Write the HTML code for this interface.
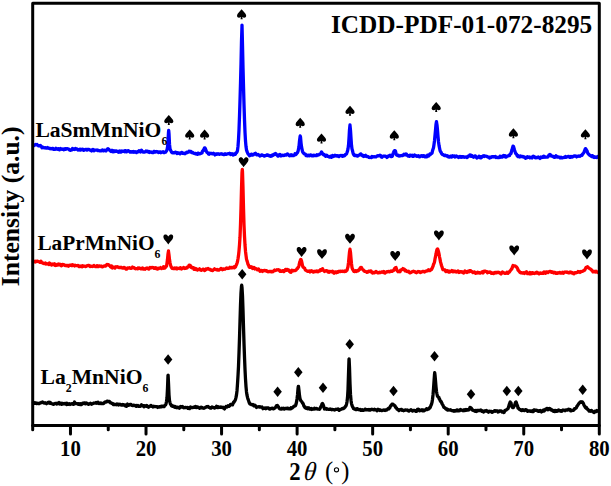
<!DOCTYPE html><html><head><meta charset="utf-8"><style>html,body{margin:0;padding:0;background:#fff;overflow:hidden;}svg{display:block;}text{font-family:"Liberation Serif",serif;}</style></head><body>
<svg width="611" height="486" viewBox="0 0 611 486">
<polyline points="33.5,402.8 34.0,403.3 34.5,402.7 35.0,403.2 35.5,402.9 36.0,402.8 36.5,403.6 37.0,403.4 37.5,403.2 38.0,403.4 38.5,403.7 39.0,403.4 39.5,403.5 40.0,402.9 40.5,402.9 41.0,402.8 41.5,402.4 42.0,402.2 42.5,402.0 43.0,402.5 43.5,402.8 44.0,402.9 44.5,403.1 45.0,402.7 45.5,403.0 46.0,403.3 46.5,403.7 47.0,403.3 47.5,403.2 48.0,402.5 48.5,402.8 49.0,402.2 49.5,402.3 50.0,403.4 50.5,402.6 51.0,403.4 51.5,403.7 52.0,403.6 52.5,403.9 53.0,404.1 53.5,404.4 54.0,404.1 54.5,403.8 55.0,403.6 55.5,403.4 56.0,403.6 56.5,403.5 57.0,404.1 57.5,403.3 58.0,403.1 58.5,403.1 59.0,402.6 59.5,404.0 60.0,403.0 60.5,403.3 61.0,403.3 61.5,404.3 62.0,403.3 62.5,404.0 63.0,403.7 63.5,403.7 64.0,403.5 64.5,403.9 65.0,403.4 65.5,403.6 66.0,403.9 66.5,404.6 67.0,403.3 67.5,404.2 68.0,404.4 68.5,404.0 69.0,404.0 69.5,403.7 70.0,404.5 70.5,404.3 71.0,404.0 71.5,403.8 72.0,403.7 72.5,403.7 73.0,403.4 73.5,404.4 74.0,403.3 74.5,402.0 75.0,402.8 75.5,403.2 76.0,403.6 76.5,403.6 77.0,403.6 77.5,403.8 78.0,404.2 78.5,403.8 79.0,403.6 79.5,404.5 80.0,404.4 80.5,403.7 81.0,404.7 81.5,404.6 82.0,403.9 82.5,403.3 83.0,403.6 83.5,403.3 84.0,403.0 84.5,402.8 85.0,403.0 85.5,403.8 86.0,403.5 86.5,403.0 87.0,403.6 87.5,403.6 88.0,404.0 88.5,404.3 89.0,404.0 89.5,403.7 90.0,403.7 90.5,403.2 91.0,403.6 91.5,404.2 92.0,404.0 92.5,403.7 93.0,403.5 93.5,403.2 94.0,403.0 94.5,403.1 95.0,403.0 95.5,403.0 96.0,402.6 96.5,403.2 97.0,403.3 97.5,402.9 98.0,402.2 98.5,402.8 99.0,403.5 99.5,403.2 100.0,403.1 100.5,403.0 101.0,403.5 101.5,403.1 102.0,403.6 102.5,403.4 103.0,403.7 103.5,403.5 104.0,403.1 104.5,402.3 105.0,402.0 105.5,401.9 106.0,402.1 106.5,401.8 107.0,401.1 107.5,401.2 108.0,401.5 108.5,401.3 109.0,401.3 109.5,401.5 110.0,402.4 110.5,402.9 111.0,402.7 111.5,403.3 112.0,403.4 112.5,403.4 113.0,404.2 113.5,404.6 114.0,404.2 114.5,404.3 115.0,404.6 115.5,404.3 116.0,404.3 116.5,404.7 117.0,403.9 117.5,404.4 118.0,404.8 118.5,405.0 119.0,404.3 119.5,404.6 120.0,404.3 120.5,404.8 121.0,405.0 121.5,405.0 122.0,404.6 122.5,404.5 123.0,405.1 123.5,404.6 124.0,405.0 124.5,405.2 125.0,405.0 125.5,406.0 126.0,405.6 126.5,406.3 127.0,404.9 127.5,404.1 128.0,405.0 128.5,405.3 129.0,405.2 129.5,405.2 130.0,404.4 130.5,404.5 131.0,404.5 131.5,404.8 132.0,405.4 132.5,405.4 133.0,405.6 133.5,405.3 134.0,405.2 134.5,405.4 135.0,405.4 135.5,406.0 136.0,405.5 136.5,406.3 137.0,405.6 137.5,406.1 138.0,405.6 138.5,406.4 139.0,406.2 139.5,406.2 140.0,406.4 140.5,405.9 141.0,405.5 141.5,404.8 142.0,405.9 142.5,405.6 143.0,405.6 143.5,405.8 144.0,406.8 144.5,405.7 145.0,406.0 145.5,405.9 146.0,406.3 146.5,405.5 147.0,405.6 147.5,406.3 148.0,406.9 148.5,407.3 149.0,406.5 149.5,406.4 150.0,406.3 150.5,405.8 151.0,405.4 151.5,406.2 152.0,406.4 152.5,406.3 153.0,406.9 153.5,406.3 154.0,406.6 154.5,406.5 155.0,406.5 155.5,406.7 156.0,406.7 156.5,406.7 157.0,406.7 157.5,407.4 158.0,406.9 158.5,407.1 159.0,407.1 159.5,406.7 160.0,406.9 160.5,406.4 161.0,406.9 161.5,406.3 162.0,406.1 162.5,406.3 163.0,406.6 163.5,406.7 164.0,406.7 164.5,406.0 165.0,405.1 165.5,404.9 166.0,403.9 166.5,401.5 167.0,397.8 167.5,388.3 168.0,375.3 168.1,375.2 168.5,383.1 169.0,394.8 169.5,400.7 170.0,402.6 170.5,404.3 171.0,404.6 171.5,405.8 172.0,405.8 172.5,406.3 173.0,405.9 173.5,406.2 174.0,406.9 174.5,407.2 175.0,406.4 175.5,407.1 176.0,407.5 176.5,407.2 177.0,407.8 177.5,407.1 178.0,407.1 178.5,407.6 179.0,408.0 179.5,408.2 180.0,407.4 180.5,406.6 181.0,407.1 181.5,406.6 182.0,406.9 182.5,406.6 183.0,407.4 183.5,407.7 184.0,407.8 184.5,407.6 185.0,407.6 185.5,407.4 186.0,407.6 186.5,407.6 187.0,407.8 187.5,407.5 188.0,408.3 188.5,408.0 189.0,408.4 189.5,408.6 190.0,407.7 190.5,406.9 191.0,407.7 191.5,407.5 192.0,407.6 192.5,407.5 193.0,407.6 193.5,407.1 194.0,407.3 194.5,407.2 195.0,407.4 195.5,406.5 196.0,407.4 196.5,407.6 197.0,406.9 197.5,406.9 198.0,407.3 198.5,407.7 199.0,407.7 199.5,408.3 200.0,408.0 200.5,407.4 201.0,407.2 201.5,407.7 202.0,407.4 202.5,407.9 203.0,408.2 203.5,408.2 204.0,408.3 204.5,407.9 205.0,407.7 205.5,407.4 206.0,407.2 206.5,406.7 207.0,406.8 207.5,406.7 208.0,406.4 208.5,407.0 209.0,407.4 209.5,407.3 210.0,407.9 210.5,408.1 211.0,408.2 211.5,407.6 212.0,406.9 212.5,407.3 213.0,407.4 213.5,407.7 214.0,407.7 214.5,408.0 215.0,407.5 215.5,407.7 216.0,407.2 216.5,406.3 217.0,406.6 217.5,407.5 218.0,406.8 218.5,407.5 219.0,407.1 219.5,407.1 220.0,407.2 220.5,407.4 221.0,407.0 221.5,407.2 222.0,407.4 222.5,407.7 223.0,407.2 223.5,407.9 224.0,408.4 224.5,408.9 225.0,407.5 225.5,407.4 226.0,406.5 226.5,406.8 227.0,407.0 227.5,406.3 228.0,405.7 228.5,406.0 229.0,406.3 229.5,405.8 230.0,405.6 230.5,404.4 231.0,404.4 231.5,404.6 232.0,404.5 232.5,404.8 233.0,403.6 233.5,402.2 234.0,402.2 234.5,401.2 235.0,400.5 235.5,399.3 236.0,397.4 236.5,394.9 237.0,390.9 237.5,383.9 238.0,375.9 238.5,366.4 239.0,353.0 239.5,338.1 240.0,321.4 240.5,305.1 241.0,292.8 241.5,286.2 241.7,285.2 242.0,287.4 242.5,295.9 243.0,310.1 243.5,327.0 244.0,343.1 244.5,357.0 245.0,369.3 245.5,379.0 246.0,386.6 246.5,391.9 247.0,395.2 247.5,397.4 248.0,399.2 248.5,400.4 249.0,402.1 249.5,403.3 250.0,404.0 250.5,404.2 251.0,404.1 251.5,404.7 252.0,404.6 252.5,405.0 253.0,404.5 253.5,404.9 254.0,405.9 254.5,405.6 255.0,405.3 255.5,405.7 256.0,406.8 256.5,407.4 257.0,407.0 257.5,406.8 258.0,406.9 258.5,406.7 259.0,407.0 259.5,407.1 260.0,406.7 260.5,406.9 261.0,407.2 261.5,407.1 262.0,407.0 262.5,407.9 263.0,408.7 263.5,408.3 264.0,408.1 264.5,408.3 265.0,408.2 265.5,407.9 266.0,408.7 266.5,408.1 267.0,407.9 267.5,407.9 268.0,407.8 268.5,408.0 269.0,408.5 269.5,409.1 270.0,409.2 270.5,408.9 271.0,408.3 271.5,408.4 272.0,408.1 272.5,408.3 273.0,408.8 273.5,408.8 274.0,408.5 274.5,408.0 275.0,407.9 275.5,407.5 276.0,406.5 276.5,405.7 277.0,405.8 277.5,405.5 278.0,406.3 278.5,406.8 279.0,408.2 279.5,408.7 280.0,408.9 280.5,409.0 281.0,409.0 281.5,409.0 282.0,408.3 282.5,408.6 283.0,408.9 283.5,408.3 284.0,408.9 284.5,409.1 285.0,408.3 285.5,408.3 286.0,408.4 286.5,408.3 287.0,408.7 287.5,408.1 288.0,408.3 288.5,408.5 289.0,408.9 289.5,408.7 290.0,408.5 290.5,408.8 291.0,407.7 291.5,408.4 292.0,408.1 292.5,407.5 293.0,407.5 293.5,406.7 294.0,406.1 294.5,406.2 295.0,405.8 295.5,405.8 296.0,404.3 296.5,402.2 297.0,399.0 297.5,395.0 298.0,388.8 298.3,386.5 298.5,386.5 299.0,390.8 299.5,395.6 300.0,398.5 300.5,400.0 301.0,400.9 301.5,401.4 302.0,402.0 302.5,403.0 303.0,403.5 303.5,404.7 304.0,406.2 304.5,406.8 305.0,407.6 305.5,407.3 306.0,408.2 306.5,408.4 307.0,408.5 307.5,408.7 308.0,407.8 308.5,408.0 309.0,408.0 309.5,409.1 310.0,408.9 310.5,408.7 311.0,409.2 311.5,408.6 312.0,409.4 312.5,408.9 313.0,408.9 313.5,408.6 314.0,409.1 314.5,408.2 315.0,408.9 315.5,408.6 316.0,408.8 316.5,408.5 317.0,408.8 317.5,409.0 318.0,409.2 318.5,409.2 319.0,409.2 319.5,409.3 320.0,408.6 320.5,407.6 321.0,406.4 321.5,405.8 322.0,404.0 322.5,403.5 323.0,404.4 323.5,405.6 324.0,407.4 324.5,409.0 325.0,408.9 325.5,408.6 326.0,408.5 326.5,409.2 327.0,409.0 327.5,408.9 328.0,409.4 328.5,409.4 329.0,409.4 329.5,409.2 330.0,409.0 330.5,409.3 331.0,409.4 331.5,409.7 332.0,409.3 332.5,409.5 333.0,409.7 333.5,409.6 334.0,409.8 334.5,410.0 335.0,409.8 335.5,409.7 336.0,409.2 336.5,409.4 337.0,409.4 337.5,409.2 338.0,408.9 338.5,409.3 339.0,410.4 339.5,410.0 340.0,409.7 340.5,409.6 341.0,409.1 341.5,409.1 342.0,408.7 342.5,408.4 343.0,408.5 343.5,408.5 344.0,408.2 344.5,407.5 345.0,407.4 345.5,406.3 346.0,405.9 346.5,404.2 347.0,401.8 347.5,397.8 348.0,389.6 348.5,374.0 349.0,359.2 349.1,359.0 349.5,367.3 350.0,383.5 350.5,394.4 351.0,400.2 351.5,403.6 352.0,405.4 352.5,406.6 353.0,407.4 353.5,408.5 354.0,408.8 354.5,409.1 355.0,408.9 355.5,409.5 356.0,409.3 356.5,409.6 357.0,408.6 357.5,409.1 358.0,409.2 358.5,409.2 359.0,409.9 359.5,409.9 360.0,409.7 360.5,409.5 361.0,410.4 361.5,410.4 362.0,410.4 362.5,409.8 363.0,410.3 363.5,410.3 364.0,410.0 364.5,409.9 365.0,409.2 365.5,409.8 366.0,409.4 366.5,409.9 367.0,409.7 367.5,409.6 368.0,409.9 368.5,410.0 369.0,409.5 369.5,409.7 370.0,410.1 370.5,409.9 371.0,409.4 371.5,409.5 372.0,409.3 372.5,409.4 373.0,409.7 373.5,409.8 374.0,409.8 374.5,409.2 375.0,409.7 375.5,409.8 376.0,409.7 376.5,409.9 377.0,410.8 377.5,409.9 378.0,409.3 378.5,410.0 379.0,409.7 379.5,410.4 380.0,409.9 380.5,409.8 381.0,410.3 381.5,410.6 382.0,410.6 382.5,410.5 383.0,410.3 383.5,410.0 384.0,409.9 384.5,410.4 385.0,410.5 385.5,410.1 386.0,409.9 386.5,410.0 387.0,410.0 387.5,409.2 388.0,408.7 388.5,408.3 389.0,408.8 389.5,407.8 390.0,407.5 390.5,405.9 391.0,405.9 391.5,404.8 392.0,404.2 392.5,404.1 393.0,404.3 393.5,404.7 394.0,405.1 394.5,405.5 395.0,405.7 395.5,407.3 396.0,407.6 396.5,408.0 397.0,409.1 397.5,409.4 398.0,409.6 398.5,409.7 399.0,410.6 399.5,409.9 400.0,409.6 400.5,409.9 401.0,409.3 401.5,409.4 402.0,410.3 402.5,410.2 403.0,410.4 403.5,410.7 404.0,410.1 404.5,410.4 405.0,410.1 405.5,409.8 406.0,410.0 406.5,410.2 407.0,410.1 407.5,410.0 408.0,410.6 408.5,411.0 409.0,411.0 409.5,410.7 410.0,410.2 410.5,410.0 411.0,409.7 411.5,410.2 412.0,410.7 412.5,411.0 413.0,410.7 413.5,410.4 414.0,410.5 414.5,410.5 415.0,410.7 415.5,411.2 416.0,410.5 416.5,411.3 417.0,410.0 417.5,409.4 418.0,409.2 418.5,409.2 419.0,409.6 419.5,410.7 420.0,410.2 420.5,410.6 421.0,410.3 421.5,410.2 422.0,409.7 422.5,410.8 423.0,410.4 423.5,409.9 424.0,410.8 424.5,410.4 425.0,410.2 425.5,409.9 426.0,409.3 426.5,408.7 427.0,408.8 427.5,409.5 428.0,409.3 428.5,408.7 429.0,408.8 429.5,407.7 430.0,407.8 430.5,406.8 431.0,405.3 431.5,404.2 432.0,402.4 432.5,399.2 433.0,394.9 433.5,389.0 434.0,381.5 434.5,374.5 434.7,372.6 435.0,375.0 435.5,380.7 436.0,386.8 436.5,391.5 437.0,394.1 437.5,396.3 438.0,396.6 438.5,397.4 439.0,397.6 439.1,398.7 439.5,399.0 440.0,400.2 440.5,401.4 441.0,401.4 441.5,402.3 442.0,403.6 442.5,404.5 443.0,405.3 443.5,406.4 444.0,407.4 444.5,407.5 445.0,407.9 445.5,408.7 446.0,409.0 446.5,409.3 447.0,408.9 447.5,410.0 448.0,409.8 448.5,410.0 449.0,409.9 449.5,410.0 450.0,410.1 450.5,409.7 451.0,410.1 451.5,410.6 452.0,410.6 452.5,410.8 453.0,410.8 453.5,410.6 454.0,411.2 454.5,410.6 455.0,410.7 455.5,411.0 456.0,410.9 456.5,410.3 457.0,409.9 457.5,410.9 458.0,410.3 458.5,410.5 459.0,410.8 459.5,410.7 460.0,410.0 460.5,409.5 461.0,410.0 461.5,410.0 462.0,410.2 462.5,410.5 463.0,410.7 463.5,410.1 464.0,409.7 464.5,410.6 465.0,410.4 465.5,410.0 466.0,409.5 466.5,410.2 467.0,409.8 467.5,409.6 468.0,410.1 468.5,410.0 469.0,409.9 469.5,408.8 470.0,407.4 470.5,407.5 471.0,408.0 471.5,408.5 472.0,409.7 472.5,410.2 473.0,410.0 473.5,410.6 474.0,410.7 474.5,410.6 475.0,411.2 475.5,410.4 476.0,411.1 476.5,411.5 477.0,410.4 477.5,410.6 478.0,410.8 478.5,410.4 479.0,410.5 479.5,410.4 480.0,410.7 480.5,410.7 481.0,410.0 481.5,411.0 482.0,411.4 482.5,410.9 483.0,411.4 483.5,412.1 484.0,411.0 484.5,410.9 485.0,410.8 485.5,411.2 486.0,411.0 486.5,410.5 487.0,411.3 487.5,411.1 488.0,411.4 488.5,412.2 489.0,411.4 489.5,411.1 490.0,411.5 490.5,411.3 491.0,411.4 491.5,411.3 492.0,412.4 492.5,412.1 493.0,411.8 493.5,411.5 494.0,411.5 494.5,410.7 495.0,410.7 495.5,411.2 496.0,410.7 496.5,410.9 497.0,410.9 497.5,410.8 498.0,412.0 498.5,411.8 499.0,411.6 499.5,411.0 500.0,411.0 500.5,410.9 501.0,410.9 501.5,411.0 502.0,412.0 502.5,412.0 503.0,412.1 503.5,412.0 504.0,412.6 504.5,411.3 505.0,410.3 505.5,410.3 506.0,410.2 506.5,409.9 507.0,409.2 507.5,409.0 508.0,408.8 508.5,407.3 509.0,405.3 509.5,403.9 510.0,402.4 510.2,402.0 510.5,402.5 511.0,402.8 511.5,405.5 512.0,406.6 512.5,407.5 513.0,407.7 513.5,407.5 514.0,406.0 514.5,405.7 515.0,404.0 515.5,402.4 515.9,403.1 516.0,401.9 516.5,403.2 517.0,404.7 517.5,405.7 518.0,408.1 518.5,408.1 519.0,409.0 519.5,409.4 520.0,409.8 520.5,409.6 521.0,410.5 521.5,410.6 522.0,410.0 522.5,409.7 523.0,410.2 523.5,409.9 524.0,410.4 524.5,410.6 525.0,410.3 525.5,409.7 526.0,409.6 526.5,410.2 527.0,410.2 527.5,411.2 528.0,410.8 528.5,410.9 529.0,411.1 529.5,411.0 530.0,411.0 530.5,411.3 531.0,411.0 531.5,411.1 532.0,410.8 532.5,411.6 533.0,411.3 533.5,411.5 534.0,409.9 534.5,410.1 535.0,410.0 535.5,410.4 536.0,410.4 536.5,410.2 537.0,410.3 537.5,410.9 538.0,411.3 538.5,410.9 539.0,411.3 539.5,410.8 540.0,411.1 540.5,410.6 541.0,411.1 541.5,411.9 542.0,411.2 542.5,411.4 543.0,410.3 543.5,410.0 544.0,411.1 544.5,410.5 545.0,410.3 545.5,409.1 546.0,409.1 546.5,408.6 547.0,409.1 547.5,408.6 548.0,409.7 548.5,408.9 549.0,409.1 549.5,408.4 550.0,408.8 550.5,409.9 551.0,410.0 551.5,409.6 552.0,410.2 552.5,410.8 553.0,411.0 553.5,411.3 554.0,410.5 554.5,411.5 555.0,411.5 555.5,410.4 556.0,411.4 556.5,411.0 557.0,411.2 557.5,410.3 558.0,410.4 558.5,409.9 559.0,410.8 559.5,410.8 560.0,410.5 560.5,410.6 561.0,411.3 561.5,410.8 562.0,411.1 562.5,410.5 563.0,410.0 563.5,410.1 564.0,410.2 564.5,410.3 565.0,410.7 565.5,410.1 566.0,409.8 566.5,410.0 567.0,410.0 567.5,409.8 568.0,410.0 568.5,409.2 569.0,409.5 569.5,409.4 570.0,409.8 570.5,410.7 571.0,410.0 571.5,410.7 572.0,410.5 572.5,410.4 573.0,410.1 573.5,410.4 574.0,409.7 574.5,408.6 575.0,408.7 575.5,408.3 576.0,408.0 576.5,407.5 577.0,406.1 577.5,405.6 578.0,404.8 578.5,404.0 579.0,403.4 579.5,402.9 580.0,402.2 580.5,401.9 581.0,402.3 581.0,401.7 581.5,401.9 582.0,401.8 582.5,402.0 583.0,402.8 583.5,403.8 584.0,405.3 584.5,405.8 585.0,406.9 585.5,407.7 586.0,408.2 586.5,407.5 587.0,408.6 587.5,409.3 588.0,409.4 588.5,410.1 589.0,411.1 589.5,410.6 590.0,410.6 590.5,411.2 591.0,410.5 591.5,410.4 592.0,410.9 592.5,411.5 593.0,411.9 593.5,411.9 594.0,412.6 594.5,412.2 595.0,411.2 595.5,411.2 596.0,411.5 596.5,411.5 597.0,410.6 597.5,411.1 598.0,410.8" fill="none" stroke="#000" stroke-width="3.3" stroke-linejoin="round" stroke-linecap="round"/>
<polyline points="33.5,261.9 34.0,261.3 34.5,261.5 35.0,261.5 35.5,261.9 36.0,261.2 36.5,261.3 37.0,261.3 37.5,261.2 38.0,261.3 38.5,261.6 39.0,261.8 39.5,261.8 40.0,262.4 40.5,262.4 41.0,261.3 41.5,262.6 42.0,262.7 42.5,262.7 43.0,263.2 43.5,263.5 44.0,263.6 44.5,263.3 45.0,263.6 45.5,263.1 46.0,264.1 46.5,263.6 47.0,263.7 47.5,263.9 48.0,264.2 48.5,264.2 49.0,264.5 49.5,263.0 50.0,263.6 50.5,263.9 51.0,264.1 51.5,265.0 52.0,264.5 52.5,264.6 53.0,263.9 53.5,264.5 54.0,264.1 54.5,263.8 55.0,265.4 55.5,265.5 56.0,265.3 56.5,265.3 57.0,264.6 57.5,264.4 58.0,264.9 58.5,264.1 59.0,264.7 59.5,264.2 60.0,264.7 60.5,264.4 61.0,265.5 61.5,265.8 62.0,265.4 62.5,264.5 63.0,264.5 63.5,264.9 64.0,264.6 64.5,265.1 65.0,265.6 65.5,265.5 66.0,265.3 66.5,265.7 67.0,265.4 67.5,265.8 68.0,265.5 68.5,266.2 69.0,265.8 69.5,265.2 70.0,265.4 70.5,265.2 71.0,265.0 71.5,265.2 72.0,265.7 72.5,264.7 73.0,265.1 73.5,265.3 74.0,265.4 74.5,265.9 75.0,265.2 75.5,265.7 76.0,265.6 76.5,265.7 77.0,265.6 77.5,265.5 78.0,265.4 78.5,265.7 79.0,266.6 79.5,266.7 80.0,266.6 80.5,266.5 81.0,266.0 81.5,266.1 82.0,266.8 82.5,265.8 83.0,266.1 83.5,266.3 84.0,266.1 84.5,266.1 85.0,266.3 85.5,266.6 86.0,266.3 86.5,266.3 87.0,265.7 87.5,265.7 88.0,265.5 88.5,265.6 89.0,265.4 89.5,265.9 90.0,266.5 90.5,266.2 91.0,266.2 91.5,266.4 92.0,266.2 92.5,266.5 93.0,266.4 93.5,265.8 94.0,265.5 94.5,266.1 95.0,266.3 95.5,266.7 96.0,266.6 96.5,266.5 97.0,265.7 97.5,266.6 98.0,266.1 98.5,266.6 99.0,266.0 99.5,265.9 100.0,266.2 100.5,266.1 101.0,266.0 101.5,266.6 102.0,266.8 102.5,266.8 103.0,266.5 103.5,266.1 104.0,266.0 104.5,265.9 105.0,266.0 105.5,266.2 106.0,265.7 106.5,265.0 107.0,264.4 107.5,264.8 108.0,264.6 108.5,264.7 109.0,265.1 109.5,265.7 110.0,266.0 110.5,266.8 111.0,267.2 111.5,265.9 112.0,266.4 112.5,268.0 113.0,267.1 113.5,267.2 114.0,267.7 114.5,267.5 115.0,268.0 115.5,267.2 116.0,266.7 116.5,267.0 117.0,266.9 117.5,266.7 118.0,267.3 118.5,267.5 119.0,267.6 119.5,267.4 120.0,267.6 120.5,267.6 121.0,267.3 121.5,267.7 122.0,267.9 122.5,267.9 123.0,268.1 123.5,267.5 124.0,267.6 124.5,267.5 125.0,268.3 125.5,268.3 126.0,269.1 126.5,269.2 127.0,268.5 127.5,267.9 128.0,268.2 128.5,268.0 129.0,268.0 129.5,267.6 130.0,268.1 130.5,268.2 131.0,268.4 131.5,268.4 132.0,267.9 132.5,267.1 133.0,267.5 133.5,267.5 134.0,267.6 134.5,268.3 135.0,268.2 135.5,268.8 136.0,268.6 136.5,268.7 137.0,268.7 137.5,268.8 138.0,268.0 138.5,268.6 139.0,268.5 139.5,268.0 140.0,268.4 140.5,268.5 141.0,268.9 141.5,268.9 142.0,268.8 142.5,267.9 143.0,268.8 143.5,269.2 144.0,269.1 144.5,268.9 145.0,269.2 145.5,268.4 146.0,268.6 146.5,268.5 147.0,268.0 147.5,268.3 148.0,268.4 148.5,269.1 149.0,269.1 149.5,268.1 150.0,267.4 150.5,267.8 151.0,267.9 151.5,267.7 152.0,267.4 152.5,267.7 153.0,267.5 153.5,267.6 154.0,268.3 154.5,268.4 155.0,268.0 155.5,267.7 156.0,267.9 156.5,268.8 157.0,268.4 157.5,269.1 158.0,268.4 158.5,268.2 159.0,268.5 159.5,268.1 160.0,268.1 160.5,267.6 161.0,268.1 161.5,268.6 162.0,268.1 162.5,268.1 163.0,267.8 163.5,266.8 164.0,268.3 164.5,268.1 165.0,267.9 165.5,267.3 166.0,266.4 166.5,266.2 167.0,262.9 167.5,259.3 168.0,254.0 168.5,251.0 168.5,251.5 169.0,255.0 169.5,259.6 170.0,262.6 170.5,265.0 171.0,266.5 171.5,267.4 172.0,268.3 172.5,267.9 173.0,268.4 173.5,268.6 174.0,268.4 174.5,268.0 175.0,268.5 175.5,268.2 176.0,268.2 176.5,267.9 177.0,268.9 177.5,268.7 178.0,268.4 178.5,268.3 179.0,268.3 179.5,268.5 180.0,267.8 180.5,267.7 181.0,268.3 181.5,268.9 182.0,268.4 182.5,268.5 183.0,268.3 183.5,267.5 184.0,267.9 184.5,267.8 185.0,268.5 185.5,268.4 186.0,268.4 186.5,267.7 187.0,267.9 187.5,266.9 188.0,266.9 188.5,266.9 189.0,265.3 189.5,265.1 190.0,265.5 190.5,265.7 191.0,267.0 191.5,267.6 192.0,267.9 192.5,267.5 193.0,267.7 193.5,267.6 194.0,269.3 194.5,269.3 195.0,269.1 195.5,268.6 196.0,269.6 196.5,268.9 197.0,269.7 197.5,270.0 198.0,269.7 198.5,269.3 199.0,269.3 199.5,268.8 200.0,269.4 200.5,270.1 201.0,270.2 201.5,270.3 202.0,269.6 202.5,269.7 203.0,269.2 203.5,269.1 204.0,269.6 204.5,270.6 205.0,270.2 205.5,269.9 206.0,268.9 206.5,269.3 207.0,269.0 207.5,268.7 208.0,268.5 208.5,269.0 209.0,269.1 209.5,269.6 210.0,269.5 210.5,269.5 211.0,270.2 211.5,270.3 212.0,270.3 212.5,270.6 213.0,270.3 213.5,269.6 214.0,269.3 214.5,268.8 215.0,269.3 215.5,269.3 216.0,269.6 216.5,269.9 217.0,269.4 217.5,269.5 218.0,270.0 218.5,269.8 219.0,270.0 219.5,269.7 220.0,269.1 220.5,269.1 221.0,268.4 221.5,269.1 222.0,269.0 222.5,269.7 223.0,268.9 223.5,269.1 224.0,269.3 224.5,269.1 225.0,269.2 225.5,268.8 226.0,268.4 226.5,268.0 227.0,268.2 227.5,268.1 228.0,268.5 228.5,268.4 229.0,268.2 229.5,268.0 230.0,267.3 230.5,267.6 231.0,268.0 231.5,267.4 232.0,267.4 232.5,267.8 233.0,267.3 233.5,267.3 234.0,266.8 234.5,267.7 235.0,267.4 235.5,266.9 236.0,265.5 236.5,264.7 237.0,263.2 237.5,261.5 238.0,258.8 238.5,255.6 239.0,250.8 239.5,244.9 240.0,237.2 240.5,224.6 241.0,208.2 241.5,188.9 242.0,172.7 242.3,169.5 242.5,172.0 243.0,188.1 243.5,208.1 244.0,224.8 244.5,236.1 245.0,245.0 245.5,251.2 246.0,255.4 246.5,259.1 247.0,260.9 247.5,262.3 248.0,264.4 248.5,264.9 249.0,266.6 249.5,267.4 250.0,267.3 250.5,267.2 251.0,266.7 251.5,267.4 252.0,267.2 252.5,268.5 253.0,267.9 253.5,268.3 254.0,267.4 254.5,267.9 255.0,269.0 255.5,268.9 256.0,268.7 256.5,268.8 257.0,269.3 257.5,269.9 258.0,269.8 258.5,269.0 259.0,269.6 259.5,270.3 260.0,271.3 260.5,270.9 261.0,270.8 261.5,270.4 262.0,270.8 262.5,271.5 263.0,270.7 263.5,270.8 264.0,270.3 264.5,270.3 265.0,270.5 265.5,270.9 266.0,270.6 266.5,270.7 267.0,271.5 267.5,271.6 268.0,271.8 268.5,271.7 269.0,271.4 269.5,271.5 270.0,271.6 270.5,271.4 271.0,271.8 271.5,271.5 272.0,271.8 272.5,271.5 273.0,271.6 273.5,271.0 274.0,270.6 274.5,270.1 275.0,270.6 275.5,270.5 276.0,270.2 276.5,270.2 277.0,269.7 277.5,269.9 278.0,270.0 278.5,269.6 279.0,270.1 279.5,270.2 280.0,271.3 280.5,270.9 281.0,270.8 281.5,271.4 282.0,271.3 282.5,270.7 283.0,271.0 283.5,270.7 284.0,271.6 284.5,270.8 285.0,270.5 285.5,269.3 286.0,269.4 286.5,270.4 287.0,270.0 287.5,269.4 288.0,269.7 288.5,269.8 289.0,270.1 289.5,271.4 290.0,272.0 290.5,272.2 291.0,272.3 291.5,271.3 292.0,270.2 292.5,270.8 293.0,270.9 293.5,270.8 294.0,270.5 294.5,270.7 295.0,270.6 295.5,270.3 296.0,270.1 296.5,269.5 297.0,268.7 297.5,268.7 298.0,267.5 298.5,267.1 299.0,265.4 299.5,263.2 300.0,261.6 300.5,259.8 300.7,259.5 301.0,259.6 301.5,260.9 302.0,263.1 302.5,265.7 303.0,267.0 303.5,267.4 304.0,267.9 304.5,268.0 305.0,269.2 305.5,270.1 306.0,270.4 306.5,270.7 307.0,271.0 307.5,271.2 308.0,271.4 308.5,271.4 309.0,270.9 309.5,271.4 310.0,272.0 310.5,271.0 311.0,271.1 311.5,270.7 312.0,271.3 312.5,271.2 313.0,272.0 313.5,272.2 314.0,271.7 314.5,271.4 315.0,271.2 315.5,271.6 316.0,271.2 316.5,271.5 317.0,270.9 317.5,271.7 318.0,271.8 318.5,271.1 319.0,270.9 319.5,271.1 320.0,271.1 320.5,269.6 321.0,269.8 321.5,270.2 322.0,269.4 322.5,268.7 323.0,269.8 323.5,270.3 324.0,270.8 324.5,271.4 325.0,270.9 325.5,271.0 326.0,270.8 326.5,270.7 327.0,271.0 327.5,270.9 328.0,271.9 328.5,272.1 329.0,272.3 329.5,271.3 330.0,271.4 330.5,271.5 331.0,271.7 331.5,271.9 332.0,271.5 332.5,271.2 333.0,271.9 333.5,272.8 334.0,273.2 334.5,272.5 335.0,271.8 335.5,271.9 336.0,272.0 336.5,272.7 337.0,272.2 337.5,271.7 338.0,272.2 338.5,271.7 339.0,271.3 339.5,271.7 340.0,271.6 340.5,271.2 341.0,271.3 341.5,271.3 342.0,271.3 342.5,271.1 343.0,271.5 343.5,271.4 344.0,271.1 344.5,271.6 345.0,271.0 345.5,271.3 346.0,271.3 346.5,270.7 347.0,270.2 347.5,268.4 348.0,266.7 348.5,262.7 349.0,257.3 349.5,252.1 350.0,249.2 350.0,249.4 350.5,252.5 351.0,258.5 351.5,263.7 352.0,267.6 352.5,269.0 353.0,269.9 353.5,270.8 354.0,271.5 354.5,271.6 355.0,271.2 355.5,270.8 356.0,270.6 356.5,271.4 357.0,270.8 357.5,270.7 358.0,270.9 358.5,270.6 359.0,269.6 359.5,269.6 360.0,268.4 360.5,267.5 361.0,267.4 361.5,267.5 362.0,268.6 362.5,269.3 363.0,269.7 363.5,270.1 364.0,270.9 364.5,271.3 365.0,271.4 365.5,271.4 366.0,271.5 366.5,272.0 367.0,272.4 367.5,272.1 368.0,272.1 368.5,271.3 369.0,271.1 369.5,271.2 370.0,271.2 370.5,271.8 371.0,271.0 371.5,271.7 372.0,272.1 372.5,273.0 373.0,272.4 373.5,272.4 374.0,272.9 374.5,272.9 375.0,272.1 375.5,272.0 376.0,271.5 376.5,271.8 377.0,272.2 377.5,272.8 378.0,272.7 378.5,272.8 379.0,272.9 379.5,272.2 380.0,272.5 380.5,272.7 381.0,272.4 381.5,271.9 382.0,272.0 382.5,272.1 383.0,272.4 383.5,271.5 384.0,271.6 384.5,272.7 385.0,273.0 385.5,272.5 386.0,272.2 386.5,272.0 387.0,271.6 387.5,271.6 388.0,271.8 388.5,271.4 389.0,271.6 389.5,271.9 390.0,271.3 390.5,271.4 391.0,270.9 391.5,271.2 392.0,271.4 392.5,271.0 393.0,270.8 393.5,270.5 394.0,270.1 394.5,268.6 395.0,268.1 395.5,267.6 396.0,267.5 396.5,269.2 397.0,270.3 397.5,271.2 398.0,271.7 398.5,271.4 399.0,271.5 399.5,271.1 400.0,271.7 400.5,270.2 401.0,270.3 401.5,269.7 402.0,269.6 402.5,269.5 403.0,268.6 403.5,269.2 404.0,269.8 404.5,269.3 405.0,270.8 405.5,270.5 406.0,270.4 406.5,271.3 407.0,271.2 407.5,271.6 408.0,271.6 408.5,271.3 409.0,272.2 409.5,272.7 410.0,272.3 410.5,272.8 411.0,272.4 411.5,272.2 412.0,271.9 412.5,271.4 413.0,271.4 413.5,271.2 414.0,271.7 414.5,271.8 415.0,271.6 415.5,272.3 416.0,272.2 416.5,272.8 417.0,272.2 417.5,271.9 418.0,271.5 418.5,271.8 419.0,271.7 419.5,271.7 420.0,272.5 420.5,272.5 421.0,271.9 421.5,272.0 422.0,271.7 422.5,271.5 423.0,271.5 423.5,271.5 424.0,271.8 424.5,272.0 425.0,271.8 425.5,271.2 426.0,271.2 426.5,271.1 427.0,270.9 427.5,270.4 428.0,270.5 428.5,269.8 429.0,270.6 429.5,270.7 430.0,270.6 430.5,269.7 431.0,269.5 431.5,269.6 432.0,268.6 432.5,267.3 433.0,266.4 433.5,264.3 434.0,263.6 434.5,261.9 435.0,258.9 435.5,256.6 436.0,254.2 436.5,251.4 437.0,249.4 437.5,249.1 437.5,248.8 438.0,249.9 438.5,251.6 439.0,253.9 439.5,256.8 440.0,259.1 440.5,261.9 441.0,263.6 441.5,265.5 442.0,266.9 442.5,268.6 443.0,269.7 443.5,269.6 444.0,269.8 444.5,270.0 445.0,270.0 445.5,271.2 446.0,271.6 446.5,271.3 447.0,270.7 447.5,270.7 448.0,271.1 448.5,271.9 449.0,271.2 449.5,272.0 450.0,271.3 450.5,271.7 451.0,271.3 451.5,271.4 452.0,270.6 452.5,271.5 453.0,271.8 453.5,271.5 454.0,270.9 454.5,271.4 455.0,271.7 455.5,271.3 456.0,271.9 456.5,272.0 457.0,271.7 457.5,271.6 458.0,270.9 458.5,271.9 459.0,272.5 459.5,272.4 460.0,271.8 460.5,271.6 461.0,271.9 461.5,271.7 462.0,272.2 462.5,271.9 463.0,272.6 463.5,273.0 464.0,272.5 464.5,272.2 465.0,271.0 465.5,271.7 466.0,272.1 466.5,271.8 467.0,272.4 467.5,271.9 468.0,271.3 468.5,271.8 469.0,271.8 469.5,270.7 470.0,270.7 470.5,270.6 471.0,271.0 471.5,271.6 472.0,271.7 472.5,272.0 473.0,272.6 473.5,272.5 474.0,272.0 474.5,271.9 475.0,272.6 475.5,273.3 476.0,272.9 476.5,273.0 477.0,272.5 477.5,272.3 478.0,272.9 478.5,272.5 479.0,272.6 479.5,272.7 480.0,273.1 480.5,272.9 481.0,272.6 481.5,272.3 482.0,271.9 482.5,272.3 483.0,272.9 483.5,271.5 484.0,271.9 484.5,271.2 485.0,271.1 485.5,271.3 486.0,271.5 486.5,271.7 487.0,271.7 487.5,272.8 488.0,272.1 488.5,272.1 489.0,272.0 489.5,272.4 490.0,272.0 490.5,272.3 491.0,272.5 491.5,273.4 492.0,273.4 492.5,273.0 493.0,272.9 493.5,273.6 494.0,273.2 494.5,272.7 495.0,272.4 495.5,272.4 496.0,272.9 496.5,272.4 497.0,272.3 497.5,272.5 498.0,272.2 498.5,272.7 499.0,272.5 499.5,272.8 500.0,273.0 500.5,273.5 501.0,273.9 501.5,273.0 502.0,272.3 502.5,272.0 503.0,272.6 503.5,272.9 504.0,272.8 504.5,272.8 505.0,273.4 505.5,273.4 506.0,273.2 506.5,273.2 507.0,272.2 507.5,272.8 508.0,273.3 508.5,272.7 509.0,271.9 509.5,271.9 510.0,271.0 510.5,270.4 511.0,269.9 511.5,269.0 512.0,268.5 512.5,266.8 513.0,265.5 513.5,265.9 514.0,265.9 514.5,265.9 515.0,265.8 515.5,266.1 516.0,266.8 516.5,266.8 517.0,267.8 517.5,268.2 518.0,270.0 518.5,270.5 519.0,271.1 519.5,271.8 520.0,272.4 520.5,272.8 521.0,272.5 521.5,272.6 522.0,273.1 522.5,273.1 523.0,273.0 523.5,272.7 524.0,272.9 524.5,273.5 525.0,272.7 525.5,272.3 526.0,272.1 526.5,271.8 527.0,272.8 527.5,273.7 528.0,273.6 528.5,273.3 529.0,273.7 529.5,273.8 530.0,272.5 530.5,272.7 531.0,273.8 531.5,273.3 532.0,272.8 532.5,272.6 533.0,273.4 533.5,273.0 534.0,273.1 534.5,273.5 535.0,273.3 535.5,273.1 536.0,272.6 536.5,272.2 537.0,273.0 537.5,272.4 538.0,273.1 538.5,273.5 539.0,273.8 539.5,273.3 540.0,272.8 540.5,272.8 541.0,273.4 541.5,273.4 542.0,273.3 542.5,273.0 543.0,273.3 543.5,272.3 544.0,272.0 544.5,273.0 545.0,273.0 545.5,273.2 546.0,272.1 546.5,271.9 547.0,271.9 547.5,272.0 548.0,272.5 548.5,271.9 549.0,271.8 549.5,271.3 550.0,271.3 550.5,271.5 551.0,271.8 551.5,272.3 552.0,271.7 552.5,272.3 553.0,272.6 553.5,272.3 554.0,273.0 554.5,272.5 555.0,272.5 555.5,272.8 556.0,273.3 556.5,272.9 557.0,273.4 557.5,273.2 558.0,272.7 558.5,273.0 559.0,272.9 559.5,272.5 560.0,272.5 560.5,273.1 561.0,273.1 561.5,272.8 562.0,273.1 562.5,272.3 563.0,272.7 563.5,273.2 564.0,272.5 564.5,272.1 565.0,272.0 565.5,272.2 566.0,272.1 566.5,272.3 567.0,272.0 567.5,272.4 568.0,272.7 568.5,272.8 569.0,272.5 569.5,272.8 570.0,272.1 570.5,272.0 571.0,272.2 571.5,272.9 572.0,272.5 572.5,272.7 573.0,273.3 573.5,273.7 574.0,273.8 574.5,272.8 575.0,272.7 575.5,272.7 576.0,272.8 576.5,272.7 577.0,272.4 577.5,272.3 578.0,271.6 578.5,272.1 579.0,272.1 579.5,271.7 580.0,272.4 580.5,272.0 581.0,271.5 581.5,271.6 582.0,271.5 582.5,271.4 583.0,270.9 583.5,270.8 584.0,270.3 584.5,270.2 585.0,269.5 585.5,268.4 586.0,267.4 586.5,267.4 587.0,267.5 587.5,266.7 588.0,267.3 588.5,267.7 589.0,268.3 589.5,268.5 590.0,268.7 590.5,269.2 591.0,269.5 591.5,270.0 592.0,270.5 592.5,270.9 593.0,271.9 593.5,271.4 594.0,271.4 594.5,271.6 595.0,272.0 595.5,271.5 596.0,271.2 596.5,271.7 597.0,272.0 597.5,272.3 598.0,272.5" fill="none" stroke="#ff0000" stroke-width="3.3" stroke-linejoin="round" stroke-linecap="round"/>
<polyline points="33.5,145.0 34.0,145.5 34.5,145.2 35.0,144.8 35.5,144.5 36.0,144.8 36.5,144.7 37.0,144.4 37.5,145.1 38.0,145.4 38.5,145.9 39.0,145.6 39.5,145.8 40.0,146.0 40.5,145.6 41.0,146.2 41.5,146.6 42.0,147.7 42.5,147.5 43.0,147.2 43.5,147.7 44.0,147.7 44.5,147.9 45.0,147.6 45.5,147.6 46.0,148.1 46.5,148.2 47.0,148.1 47.5,147.5 48.0,147.9 48.5,148.0 49.0,148.3 49.5,148.4 50.0,148.8 50.5,148.5 51.0,148.6 51.5,148.8 52.0,148.3 52.5,148.3 53.0,148.3 53.5,149.3 54.0,149.1 54.5,149.3 55.0,149.3 55.5,149.0 56.0,148.3 56.5,149.0 57.0,148.8 57.5,149.2 58.0,148.6 58.5,148.6 59.0,149.3 59.5,149.8 60.0,148.9 60.5,148.5 61.0,148.7 61.5,149.2 62.0,149.3 62.5,149.4 63.0,148.9 63.5,149.3 64.0,149.8 64.5,149.4 65.0,148.7 65.5,148.7 66.0,149.3 66.5,148.6 67.0,148.9 67.5,148.7 68.0,149.0 68.5,149.1 69.0,149.3 69.5,150.0 70.0,150.0 70.5,150.4 71.0,149.9 71.5,149.6 72.0,149.8 72.5,148.5 73.0,149.0 73.5,149.4 74.0,149.0 74.5,149.5 75.0,149.4 75.5,148.5 76.0,149.0 76.5,148.9 77.0,149.1 77.5,149.3 78.0,150.1 78.5,150.0 79.0,149.9 79.5,150.0 80.0,149.2 80.5,150.0 81.0,149.5 81.5,149.8 82.0,149.4 82.5,149.2 83.0,149.3 83.5,150.4 84.0,150.4 84.5,149.9 85.0,149.8 85.5,149.4 86.0,149.6 86.5,149.5 87.0,150.0 87.5,149.4 88.0,149.5 88.5,149.4 89.0,149.3 89.5,149.9 90.0,150.0 90.5,150.3 91.0,150.6 91.5,150.9 92.0,149.9 92.5,150.2 93.0,149.4 93.5,149.7 94.0,150.7 94.5,150.3 95.0,150.1 95.5,150.2 96.0,150.2 96.5,150.2 97.0,149.9 97.5,150.5 98.0,150.7 98.5,150.4 99.0,150.5 99.5,150.7 100.0,150.9 100.5,150.8 101.0,150.9 101.5,150.5 102.0,150.0 102.5,149.9 103.0,150.5 103.5,150.9 104.0,150.6 104.5,150.2 105.0,150.3 105.5,150.8 106.0,150.9 106.5,150.0 107.0,149.8 107.5,149.0 108.0,148.7 108.5,149.2 109.0,149.5 109.5,150.2 110.0,150.7 110.5,151.0 111.0,151.4 111.5,150.8 112.0,150.3 112.5,150.7 113.0,151.9 113.5,151.6 114.0,150.8 114.5,151.0 115.0,151.6 115.5,150.9 116.0,151.3 116.5,150.9 117.0,151.5 117.5,151.6 118.0,151.5 118.5,152.2 119.0,151.5 119.5,151.1 120.0,151.9 120.5,151.2 121.0,152.1 121.5,151.7 122.0,151.0 122.5,151.1 123.0,151.2 123.5,151.3 124.0,151.2 124.5,151.7 125.0,150.6 125.5,150.7 126.0,150.9 126.5,151.9 127.0,150.8 127.5,150.9 128.0,150.7 128.5,150.7 129.0,151.3 129.5,151.6 130.0,152.1 130.5,151.6 131.0,151.7 131.5,152.1 132.0,152.2 132.5,151.7 133.0,152.1 133.5,151.5 134.0,152.2 134.5,152.0 135.0,151.7 135.5,151.8 136.0,152.0 136.5,152.5 137.0,152.0 137.5,151.7 138.0,151.9 138.5,151.4 139.0,150.7 139.5,151.5 140.0,151.4 140.5,151.9 141.0,151.3 141.5,150.2 142.0,151.0 142.5,151.3 143.0,152.1 143.5,152.1 144.0,152.0 144.5,152.1 145.0,151.7 145.5,151.7 146.0,151.1 146.5,151.6 147.0,151.3 147.5,151.2 148.0,151.7 148.5,152.1 149.0,151.5 149.5,152.4 150.0,151.8 150.5,152.1 151.0,152.3 151.5,152.2 152.0,152.1 152.5,152.7 153.0,152.7 153.5,152.5 154.0,151.4 154.5,151.3 155.0,152.0 155.5,152.1 156.0,151.6 156.5,151.5 157.0,151.6 157.5,152.0 158.0,152.2 158.5,152.5 159.0,151.9 159.5,152.4 160.0,152.0 160.5,151.9 161.0,152.7 161.5,152.4 162.0,152.1 162.5,152.0 163.0,151.8 163.5,152.5 164.0,152.7 164.5,152.6 165.0,152.1 165.5,152.2 166.0,151.5 166.5,150.9 167.0,149.8 167.5,147.3 168.0,142.3 168.5,132.2 168.7,130.5 169.0,133.6 169.5,144.2 170.0,148.7 170.5,150.1 171.0,151.0 171.5,152.0 172.0,152.6 172.5,152.8 173.0,152.7 173.5,152.6 174.0,152.9 174.5,152.7 175.0,152.3 175.5,152.2 176.0,152.3 176.5,152.6 177.0,153.6 177.5,152.7 178.0,152.9 178.5,152.8 179.0,153.0 179.5,153.5 180.0,153.8 180.5,153.3 181.0,152.9 181.5,152.4 182.0,152.6 182.5,153.3 183.0,153.1 183.5,153.3 184.0,153.5 184.5,153.4 185.0,153.7 185.5,153.3 186.0,152.8 186.5,152.3 187.0,152.8 187.5,152.4 188.0,152.0 188.5,152.1 189.0,151.2 189.5,151.7 190.0,151.6 190.5,151.4 191.0,151.6 191.5,152.6 192.0,152.3 192.5,152.4 193.0,152.8 193.5,153.2 194.0,153.3 194.5,153.5 195.0,153.3 195.5,153.4 196.0,154.0 196.5,154.0 197.0,153.6 197.5,154.3 198.0,153.1 198.5,153.3 199.0,153.6 199.5,153.9 200.0,153.7 200.5,153.3 201.0,153.4 201.5,153.1 202.0,153.0 202.5,151.2 203.0,151.2 203.5,149.9 204.0,149.1 204.5,147.9 205.0,147.9 205.5,148.9 206.0,150.6 206.5,151.5 207.0,152.4 207.5,152.8 208.0,152.8 208.5,154.0 209.0,154.2 209.5,153.2 210.0,153.8 210.5,153.3 211.0,153.5 211.5,153.5 212.0,153.5 212.5,153.9 213.0,153.8 213.5,153.3 214.0,153.7 214.5,154.1 215.0,154.9 215.5,154.4 216.0,153.8 216.5,153.8 217.0,154.3 217.5,153.9 218.0,153.7 218.5,154.2 219.0,154.2 219.5,154.3 220.0,154.0 220.5,153.8 221.0,153.8 221.5,154.0 222.0,153.9 222.5,154.3 223.0,154.5 223.5,154.6 224.0,154.7 224.5,154.1 225.0,153.7 225.5,154.3 226.0,154.3 226.5,154.3 227.0,153.8 227.5,153.9 228.0,153.8 228.5,153.6 229.0,153.6 229.5,153.3 230.0,153.7 230.5,154.5 231.0,154.0 231.5,154.2 232.0,153.7 232.5,154.2 233.0,155.0 233.5,154.1 234.0,154.0 234.5,154.6 235.0,154.5 235.5,154.2 236.0,152.9 236.5,152.6 237.0,152.0 237.5,150.4 238.0,146.4 238.5,139.5 239.0,129.8 239.5,116.3 240.0,100.5 240.5,83.6 241.0,64.3 241.5,41.0 242.0,25.7 242.0,25.1 242.5,45.4 243.0,67.3 243.5,86.4 244.0,104.2 244.5,119.6 245.0,132.3 245.5,141.0 246.0,146.6 246.5,149.9 247.0,151.5 247.5,152.6 248.0,153.8 248.5,154.4 249.0,154.9 249.5,155.8 250.0,155.4 250.5,155.2 251.0,154.3 251.5,154.2 252.0,155.2 252.5,155.1 253.0,154.7 253.5,154.7 254.0,153.8 254.5,153.8 255.0,153.6 255.5,153.2 256.0,154.2 256.5,154.8 257.0,154.7 257.5,154.9 258.0,154.4 258.5,154.8 259.0,155.2 259.5,155.7 260.0,156.0 260.5,155.8 261.0,155.4 261.5,154.9 262.0,154.8 262.5,155.2 263.0,155.4 263.5,155.3 264.0,156.0 264.5,156.0 265.0,155.7 265.5,155.5 266.0,155.5 266.5,155.1 267.0,154.8 267.5,155.3 268.0,155.1 268.5,155.2 269.0,155.8 269.5,155.6 270.0,156.1 270.5,155.8 271.0,156.3 271.5,156.1 272.0,155.1 272.5,155.7 273.0,155.4 273.5,154.4 274.0,154.6 274.5,154.5 275.0,153.7 275.5,153.5 276.0,153.9 276.5,154.6 277.0,155.2 277.5,155.7 278.0,156.1 278.5,154.8 279.0,154.9 279.5,155.4 280.0,154.4 280.5,155.3 281.0,155.9 281.5,155.5 282.0,155.5 282.5,155.2 283.0,155.4 283.5,155.5 284.0,155.5 284.5,155.0 285.0,155.2 285.5,154.9 286.0,155.2 286.5,155.0 287.0,154.2 287.5,153.9 288.0,154.5 288.5,154.7 289.0,155.3 289.5,155.8 290.0,155.7 290.5,155.0 291.0,154.8 291.5,155.4 292.0,155.0 292.5,155.7 293.0,155.6 293.5,155.7 294.0,155.1 294.5,155.1 295.0,153.7 295.5,154.0 296.0,154.4 296.5,153.7 297.0,153.0 297.5,152.5 298.0,151.4 298.5,149.2 299.0,146.4 299.5,140.9 300.0,137.1 300.2,135.9 300.5,136.9 301.0,142.6 301.5,146.7 302.0,149.1 302.5,151.4 303.0,152.4 303.5,153.0 304.0,153.6 304.5,154.0 305.0,154.1 305.5,154.3 306.0,155.5 306.5,155.2 307.0,155.8 307.5,155.2 308.0,155.7 308.5,155.2 309.0,155.3 309.5,155.8 310.0,155.6 310.5,154.9 311.0,155.1 311.5,155.4 312.0,155.9 312.5,155.5 313.0,155.5 313.5,155.7 314.0,155.1 314.5,155.4 315.0,155.3 315.5,155.7 316.0,155.7 316.5,155.7 317.0,154.7 317.5,155.1 318.0,155.2 318.5,154.9 319.0,154.8 319.5,154.2 320.0,154.1 320.5,153.8 321.0,153.0 321.5,151.9 322.0,152.8 322.5,153.8 323.0,154.0 323.5,154.7 324.0,154.5 324.5,155.0 325.0,155.7 325.5,156.3 326.0,156.0 326.5,155.2 327.0,155.5 327.5,156.3 328.0,156.2 328.5,156.7 329.0,156.7 329.5,157.1 330.0,156.9 330.5,156.2 331.0,156.3 331.5,157.3 332.0,156.5 332.5,155.5 333.0,156.6 333.5,156.5 334.0,156.1 334.5,155.8 335.0,155.2 335.5,155.9 336.0,156.0 336.5,155.7 337.0,155.7 337.5,155.6 338.0,156.2 338.5,156.0 339.0,156.5 339.5,155.9 340.0,155.6 340.5,155.5 341.0,155.4 341.5,155.5 342.0,156.0 342.5,156.3 343.0,155.4 343.5,155.9 344.0,155.6 344.5,155.9 345.0,155.2 345.5,154.4 346.0,154.3 346.5,153.8 347.0,152.5 347.5,151.1 348.0,148.9 348.5,145.3 349.0,138.3 349.5,129.6 350.0,125.0 350.0,125.3 350.5,130.3 351.0,138.2 351.5,145.3 352.0,148.9 352.5,150.7 353.0,153.0 353.5,154.3 354.0,155.0 354.5,155.5 355.0,155.7 355.5,155.2 356.0,155.4 356.5,155.7 357.0,156.0 357.5,156.1 358.0,155.5 358.5,155.3 359.0,155.2 359.5,155.1 360.0,154.6 360.5,154.0 361.0,154.0 361.5,154.8 362.0,155.2 362.5,155.9 363.0,155.3 363.5,155.6 364.0,156.4 364.5,155.6 365.0,155.6 365.5,155.3 366.0,156.4 366.5,156.5 367.0,156.3 367.5,156.5 368.0,156.6 368.5,157.0 369.0,157.4 369.5,157.5 370.0,157.3 370.5,157.4 371.0,157.4 371.5,157.6 372.0,156.4 372.5,156.7 373.0,156.8 373.5,156.8 374.0,156.7 374.5,156.7 375.0,156.9 375.5,156.9 376.0,156.9 376.5,156.3 377.0,156.0 377.5,156.0 378.0,155.6 378.5,155.9 379.0,155.9 379.5,155.5 380.0,155.2 380.5,155.7 381.0,155.9 381.5,157.1 382.0,157.3 382.5,156.7 383.0,156.4 383.5,156.1 384.0,156.0 384.5,156.1 385.0,156.3 385.5,156.1 386.0,156.7 386.5,156.8 387.0,157.5 387.5,156.4 388.0,156.7 388.5,156.4 389.0,155.6 389.5,155.7 390.0,155.2 390.5,155.5 391.0,156.7 391.5,156.6 392.0,156.5 392.5,155.8 393.0,153.7 393.5,152.6 394.0,151.3 394.5,150.7 395.0,150.6 395.5,151.0 396.0,153.6 396.5,154.9 397.0,155.4 397.5,155.4 398.0,155.7 398.5,155.3 399.0,156.0 399.5,156.0 400.0,155.9 400.5,155.7 401.0,155.7 401.5,155.7 402.0,155.4 402.5,155.6 403.0,155.3 403.5,154.9 404.0,154.2 404.5,154.6 405.0,154.8 405.5,154.8 406.0,153.9 406.5,154.2 407.0,155.1 407.5,155.3 408.0,156.0 408.5,155.8 409.0,156.2 409.5,156.3 410.0,155.1 410.5,155.3 411.0,155.5 411.5,155.5 412.0,155.3 412.5,156.3 413.0,156.1 413.5,156.4 414.0,155.7 414.5,155.0 415.0,155.3 415.5,155.8 416.0,155.6 416.5,156.0 417.0,156.4 417.5,156.0 418.0,156.0 418.5,155.7 419.0,156.3 419.5,156.9 420.0,156.7 420.5,156.2 421.0,155.8 421.5,155.7 422.0,156.2 422.5,155.8 423.0,156.4 423.5,155.7 424.0,155.7 424.5,156.3 425.0,156.8 425.5,156.1 426.0,156.2 426.5,156.9 427.0,156.7 427.5,155.2 428.0,155.3 428.5,156.1 429.0,155.0 429.5,155.2 430.0,153.9 430.5,154.5 431.0,153.6 431.5,153.6 432.0,153.1 432.5,150.8 433.0,149.2 433.5,147.7 434.0,144.4 434.5,140.7 435.0,135.3 435.5,130.1 436.0,124.3 436.5,121.6 436.5,122.1 437.0,125.0 437.5,130.2 438.0,136.3 438.5,141.7 439.0,145.4 439.5,147.8 440.0,150.3 440.5,151.6 441.0,152.1 441.5,153.4 442.0,154.2 442.5,154.5 443.0,154.5 443.5,154.7 444.0,155.3 444.5,155.6 445.0,155.3 445.5,155.2 446.0,155.6 446.5,155.9 447.0,156.3 447.5,155.7 448.0,156.3 448.5,157.0 449.0,157.1 449.5,156.8 450.0,157.0 450.5,156.2 451.0,156.1 451.5,157.1 452.0,156.2 452.5,155.8 453.0,156.5 453.5,156.3 454.0,156.2 454.5,155.9 455.0,157.0 455.5,156.6 456.0,156.5 456.5,155.9 457.0,156.6 457.5,156.7 458.0,156.9 458.5,157.5 459.0,157.3 459.5,156.6 460.0,156.3 460.5,156.6 461.0,157.3 461.5,156.6 462.0,156.6 462.5,156.7 463.0,157.1 463.5,156.6 464.0,156.9 464.5,157.3 465.0,157.1 465.5,157.0 466.0,157.2 466.5,157.2 467.0,157.5 467.5,156.6 468.0,156.9 468.5,156.4 469.0,155.6 469.5,155.3 470.0,154.9 470.5,155.3 471.0,156.2 471.5,155.4 472.0,155.5 472.5,156.5 473.0,156.6 473.5,157.2 474.0,156.6 474.5,156.8 475.0,155.9 475.5,156.1 476.0,156.9 476.5,157.5 477.0,158.0 477.5,157.6 478.0,157.0 478.5,156.9 479.0,156.2 479.5,157.2 480.0,157.7 480.5,157.0 481.0,157.8 481.5,156.8 482.0,157.1 482.5,156.6 483.0,155.9 483.5,156.3 484.0,155.8 484.5,156.5 485.0,156.0 485.5,156.1 486.0,156.1 486.5,156.4 487.0,156.3 487.5,156.9 488.0,157.2 488.5,157.2 489.0,157.1 489.5,158.0 490.0,157.3 490.5,157.1 491.0,157.5 491.5,157.3 492.0,156.6 492.5,156.8 493.0,156.8 493.5,156.6 494.0,157.0 494.5,156.6 495.0,156.8 495.5,156.5 496.0,157.5 496.5,157.2 497.0,157.4 497.5,157.4 498.0,157.6 498.5,157.4 499.0,157.6 499.5,157.5 500.0,156.3 500.5,156.8 501.0,156.4 501.5,157.1 502.0,157.2 502.5,157.0 503.0,155.9 503.5,155.5 504.0,155.7 504.5,156.1 505.0,155.8 505.5,157.1 506.0,157.1 506.5,156.8 507.0,156.2 507.5,156.1 508.0,156.0 508.5,155.7 509.0,155.6 509.5,155.7 510.0,154.3 510.5,153.9 511.0,153.5 511.5,151.4 512.0,149.8 512.5,147.9 513.0,146.1 513.3,146.5 513.5,146.4 514.0,148.1 514.5,149.9 515.0,151.4 515.5,153.0 516.0,153.9 516.5,154.0 517.0,155.5 517.5,156.0 518.0,156.6 518.5,155.8 519.0,156.6 519.5,157.0 520.0,156.9 520.5,156.0 521.0,156.4 521.5,156.4 522.0,156.6 522.5,156.8 523.0,156.5 523.5,156.7 524.0,156.9 524.5,157.6 525.0,157.4 525.5,158.3 526.0,157.3 526.5,157.2 527.0,157.7 527.5,156.8 528.0,157.3 528.5,157.4 529.0,157.1 529.5,157.0 530.0,157.8 530.5,157.4 531.0,157.4 531.5,157.5 532.0,157.9 532.5,156.8 533.0,156.4 533.5,156.2 534.0,156.6 534.5,157.1 535.0,157.6 535.5,157.3 536.0,157.9 536.5,157.6 537.0,157.7 537.5,157.2 538.0,157.6 538.5,157.1 539.0,157.7 539.5,157.9 540.0,158.4 540.5,157.7 541.0,157.0 541.5,157.5 542.0,157.5 542.5,157.1 543.0,156.6 543.5,157.2 544.0,156.3 544.5,156.5 545.0,157.2 545.5,157.0 546.0,157.1 546.5,157.1 547.0,157.0 547.5,157.1 548.0,156.7 548.5,156.0 549.0,155.0 549.5,154.8 550.0,154.5 550.5,154.9 551.0,155.7 551.5,156.1 552.0,155.9 552.5,156.2 553.0,156.5 553.5,156.5 554.0,157.2 554.5,157.4 555.0,157.4 555.5,156.7 556.0,155.8 556.5,156.1 557.0,157.0 557.5,157.0 558.0,157.0 558.5,157.0 559.0,157.2 559.5,157.2 560.0,157.9 560.5,157.5 561.0,157.2 561.5,157.8 562.0,157.8 562.5,157.8 563.0,157.7 563.5,157.4 564.0,157.4 564.5,157.5 565.0,157.4 565.5,156.4 566.0,157.3 566.5,157.0 567.0,156.8 567.5,156.8 568.0,156.6 568.5,156.4 569.0,156.6 569.5,157.2 570.0,157.0 570.5,157.2 571.0,156.5 571.5,157.0 572.0,156.5 572.5,157.0 573.0,156.6 573.5,156.5 574.0,156.1 574.5,155.9 575.0,156.2 575.5,156.0 576.0,156.2 576.5,156.9 577.0,156.4 577.5,156.3 578.0,156.3 578.5,156.0 579.0,156.1 579.5,156.1 580.0,156.4 580.5,155.7 581.0,155.4 581.5,155.1 582.0,155.3 582.5,154.2 583.0,153.7 583.5,153.2 584.0,152.3 584.5,150.8 585.0,149.6 585.5,148.6 586.0,149.1 586.5,150.2 587.0,150.8 587.5,152.5 588.0,153.5 588.5,154.1 589.0,154.4 589.5,155.2 590.0,155.3 590.5,155.8 591.0,155.8 591.5,156.4 592.0,155.7 592.5,155.6 593.0,156.7 593.5,157.1 594.0,157.5 594.5,156.8 595.0,157.0 595.5,157.3 596.0,157.4 596.5,157.0 597.0,157.5 597.5,157.3 598.0,156.5" fill="none" stroke="#0000ff" stroke-width="3.3" stroke-linejoin="round" stroke-linecap="round"/>
<path transform="translate(168.8,114.9)" fill="#000" d="M0,0 C1.5,2.2 4.6,4.2 4.6,6.4 C4.6,8.3 2.4,9.0 0.6,7.6 L1.1,10 L-1.1,10 L-0.6,7.6 C-2.4,9.0 -4.6,8.3 -4.6,6.4 C-4.6,4.2 -1.5,2.2 0,0 Z"/>
<path transform="translate(189.7,129.4)" fill="#000" d="M0,0 C1.5,2.2 4.6,4.2 4.6,6.4 C4.6,8.3 2.4,9.0 0.6,7.6 L1.1,10 L-1.1,10 L-0.6,7.6 C-2.4,9.0 -4.6,8.3 -4.6,6.4 C-4.6,4.2 -1.5,2.2 0,0 Z"/>
<path transform="translate(204.6,129.4)" fill="#000" d="M0,0 C1.5,2.2 4.6,4.2 4.6,6.4 C4.6,8.3 2.4,9.0 0.6,7.6 L1.1,10 L-1.1,10 L-0.6,7.6 C-2.4,9.0 -4.6,8.3 -4.6,6.4 C-4.6,4.2 -1.5,2.2 0,0 Z"/>
<path transform="translate(241.6,9.3)" fill="#000" d="M0,0 C1.5,2.2 4.6,4.2 4.6,6.4 C4.6,8.3 2.4,9.0 0.6,7.6 L1.1,10 L-1.1,10 L-0.6,7.6 C-2.4,9.0 -4.6,8.3 -4.6,6.4 C-4.6,4.2 -1.5,2.2 0,0 Z"/>
<path transform="translate(300.2,117.8)" fill="#000" d="M0,0 C1.5,2.2 4.6,4.2 4.6,6.4 C4.6,8.3 2.4,9.0 0.6,7.6 L1.1,10 L-1.1,10 L-0.6,7.6 C-2.4,9.0 -4.6,8.3 -4.6,6.4 C-4.6,4.2 -1.5,2.2 0,0 Z"/>
<path transform="translate(321.5,133.4)" fill="#000" d="M0,0 C1.5,2.2 4.6,4.2 4.6,6.4 C4.6,8.3 2.4,9.0 0.6,7.6 L1.1,10 L-1.1,10 L-0.6,7.6 C-2.4,9.0 -4.6,8.3 -4.6,6.4 C-4.6,4.2 -1.5,2.2 0,0 Z"/>
<path transform="translate(350.0,105.7)" fill="#000" d="M0,0 C1.5,2.2 4.6,4.2 4.6,6.4 C4.6,8.3 2.4,9.0 0.6,7.6 L1.1,10 L-1.1,10 L-0.6,7.6 C-2.4,9.0 -4.6,8.3 -4.6,6.4 C-4.6,4.2 -1.5,2.2 0,0 Z"/>
<path transform="translate(394.3,130.3)" fill="#000" d="M0,0 C1.5,2.2 4.6,4.2 4.6,6.4 C4.6,8.3 2.4,9.0 0.6,7.6 L1.1,10 L-1.1,10 L-0.6,7.6 C-2.4,9.0 -4.6,8.3 -4.6,6.4 C-4.6,4.2 -1.5,2.2 0,0 Z"/>
<path transform="translate(436.2,101.9)" fill="#000" d="M0,0 C1.5,2.2 4.6,4.2 4.6,6.4 C4.6,8.3 2.4,9.0 0.6,7.6 L1.1,10 L-1.1,10 L-0.6,7.6 C-2.4,9.0 -4.6,8.3 -4.6,6.4 C-4.6,4.2 -1.5,2.2 0,0 Z"/>
<path transform="translate(513.4,128.3)" fill="#000" d="M0,0 C1.5,2.2 4.6,4.2 4.6,6.4 C4.6,8.3 2.4,9.0 0.6,7.6 L1.1,10 L-1.1,10 L-0.6,7.6 C-2.4,9.0 -4.6,8.3 -4.6,6.4 C-4.6,4.2 -1.5,2.2 0,0 Z"/>
<path transform="translate(585.4,129.2)" fill="#000" d="M0,0 C1.5,2.2 4.6,4.2 4.6,6.4 C4.6,8.3 2.4,9.0 0.6,7.6 L1.1,10 L-1.1,10 L-0.6,7.6 C-2.4,9.0 -4.6,8.3 -4.6,6.4 C-4.6,4.2 -1.5,2.2 0,0 Z"/>
<path transform="translate(168.3,234.4)" fill="#000" d="M0,2.2 C0.8,0.3 2.6,-0.2 3.6,0.2 C5.2,0.8 5.2,3.0 4.3,4.6 C3.3,6.4 1.2,8.0 0,10 C-1.2,8.0 -3.3,6.4 -4.3,4.6 C-5.2,3.0 -5.2,0.8 -3.6,0.2 C-2.6,-0.2 -0.8,0.3 0,2.2 Z"/>
<path transform="translate(243.6,157.2)" fill="#000" d="M0,2.2 C0.8,0.3 2.6,-0.2 3.6,0.2 C5.2,0.8 5.2,3.0 4.3,4.6 C3.3,6.4 1.2,8.0 0,10 C-1.2,8.0 -3.3,6.4 -4.3,4.6 C-5.2,3.0 -5.2,0.8 -3.6,0.2 C-2.6,-0.2 -0.8,0.3 0,2.2 Z"/>
<path transform="translate(301.6,247.0)" fill="#000" d="M0,2.2 C0.8,0.3 2.6,-0.2 3.6,0.2 C5.2,0.8 5.2,3.0 4.3,4.6 C3.3,6.4 1.2,8.0 0,10 C-1.2,8.0 -3.3,6.4 -4.3,4.6 C-5.2,3.0 -5.2,0.8 -3.6,0.2 C-2.6,-0.2 -0.8,0.3 0,2.2 Z"/>
<path transform="translate(322.0,249.1)" fill="#000" d="M0,2.2 C0.8,0.3 2.6,-0.2 3.6,0.2 C5.2,0.8 5.2,3.0 4.3,4.6 C3.3,6.4 1.2,8.0 0,10 C-1.2,8.0 -3.3,6.4 -4.3,4.6 C-5.2,3.0 -5.2,0.8 -3.6,0.2 C-2.6,-0.2 -0.8,0.3 0,2.2 Z"/>
<path transform="translate(350.0,233.8)" fill="#000" d="M0,2.2 C0.8,0.3 2.6,-0.2 3.6,0.2 C5.2,0.8 5.2,3.0 4.3,4.6 C3.3,6.4 1.2,8.0 0,10 C-1.2,8.0 -3.3,6.4 -4.3,4.6 C-5.2,3.0 -5.2,0.8 -3.6,0.2 C-2.6,-0.2 -0.8,0.3 0,2.2 Z"/>
<path transform="translate(395.2,251.0)" fill="#000" d="M0,2.2 C0.8,0.3 2.6,-0.2 3.6,0.2 C5.2,0.8 5.2,3.0 4.3,4.6 C3.3,6.4 1.2,8.0 0,10 C-1.2,8.0 -3.3,6.4 -4.3,4.6 C-5.2,3.0 -5.2,0.8 -3.6,0.2 C-2.6,-0.2 -0.8,0.3 0,2.2 Z"/>
<path transform="translate(438.9,230.4)" fill="#000" d="M0,2.2 C0.8,0.3 2.6,-0.2 3.6,0.2 C5.2,0.8 5.2,3.0 4.3,4.6 C3.3,6.4 1.2,8.0 0,10 C-1.2,8.0 -3.3,6.4 -4.3,4.6 C-5.2,3.0 -5.2,0.8 -3.6,0.2 C-2.6,-0.2 -0.8,0.3 0,2.2 Z"/>
<path transform="translate(514.2,245.4)" fill="#000" d="M0,2.2 C0.8,0.3 2.6,-0.2 3.6,0.2 C5.2,0.8 5.2,3.0 4.3,4.6 C3.3,6.4 1.2,8.0 0,10 C-1.2,8.0 -3.3,6.4 -4.3,4.6 C-5.2,3.0 -5.2,0.8 -3.6,0.2 C-2.6,-0.2 -0.8,0.3 0,2.2 Z"/>
<path transform="translate(587.0,249.4)" fill="#000" d="M0,2.2 C0.8,0.3 2.6,-0.2 3.6,0.2 C5.2,0.8 5.2,3.0 4.3,4.6 C3.3,6.4 1.2,8.0 0,10 C-1.2,8.0 -3.3,6.4 -4.3,4.6 C-5.2,3.0 -5.2,0.8 -3.6,0.2 C-2.6,-0.2 -0.8,0.3 0,2.2 Z"/>
<path transform="translate(168.1,354.3)" fill="#000" d="M0,0 L4.25,5.25 L0,10.5 L-4.25,5.25 Z"/>
<path transform="translate(242.2,269.0)" fill="#000" d="M0,0 L4.25,5.25 L0,10.5 L-4.25,5.25 Z"/>
<path transform="translate(277.6,386.5)" fill="#000" d="M0,0 L4.25,5.25 L0,10.5 L-4.25,5.25 Z"/>
<path transform="translate(298.3,367.0)" fill="#000" d="M0,0 L4.25,5.25 L0,10.5 L-4.25,5.25 Z"/>
<path transform="translate(323.0,382.5)" fill="#000" d="M0,0 L4.25,5.25 L0,10.5 L-4.25,5.25 Z"/>
<path transform="translate(349.7,339.1)" fill="#000" d="M0,0 L4.25,5.25 L0,10.5 L-4.25,5.25 Z"/>
<path transform="translate(393.5,385.7)" fill="#000" d="M0,0 L4.25,5.25 L0,10.5 L-4.25,5.25 Z"/>
<path transform="translate(434.5,351.0)" fill="#000" d="M0,0 L4.25,5.25 L0,10.5 L-4.25,5.25 Z"/>
<path transform="translate(471.0,389.0)" fill="#000" d="M0,0 L4.25,5.25 L0,10.5 L-4.25,5.25 Z"/>
<path transform="translate(506.8,385.8)" fill="#000" d="M0,0 L4.25,5.25 L0,10.5 L-4.25,5.25 Z"/>
<path transform="translate(518.3,385.8)" fill="#000" d="M0,0 L4.25,5.25 L0,10.5 L-4.25,5.25 Z"/>
<path transform="translate(582.7,384.6)" fill="#000" d="M0,0 L4.25,5.25 L0,10.5 L-4.25,5.25 Z"/>
<rect x="32.7" y="3.3" width="566.6" height="422.1" fill="none" stroke="#000" stroke-width="3" stroke-linejoin="round"/>
<line x1="32.70" y1="425.4" x2="32.70" y2="429.7" stroke="#000" stroke-width="3" stroke-linecap="round"/>
<line x1="70.47" y1="425.4" x2="70.47" y2="434.0" stroke="#000" stroke-width="3" stroke-linecap="round"/>
<line x1="108.25" y1="425.4" x2="108.25" y2="429.7" stroke="#000" stroke-width="3" stroke-linecap="round"/>
<line x1="146.02" y1="425.4" x2="146.02" y2="434.0" stroke="#000" stroke-width="3" stroke-linecap="round"/>
<line x1="183.79" y1="425.4" x2="183.79" y2="429.7" stroke="#000" stroke-width="3" stroke-linecap="round"/>
<line x1="221.57" y1="425.4" x2="221.57" y2="434.0" stroke="#000" stroke-width="3" stroke-linecap="round"/>
<line x1="259.34" y1="425.4" x2="259.34" y2="429.7" stroke="#000" stroke-width="3" stroke-linecap="round"/>
<line x1="297.11" y1="425.4" x2="297.11" y2="434.0" stroke="#000" stroke-width="3" stroke-linecap="round"/>
<line x1="334.89" y1="425.4" x2="334.89" y2="429.7" stroke="#000" stroke-width="3" stroke-linecap="round"/>
<line x1="372.66" y1="425.4" x2="372.66" y2="434.0" stroke="#000" stroke-width="3" stroke-linecap="round"/>
<line x1="410.43" y1="425.4" x2="410.43" y2="429.7" stroke="#000" stroke-width="3" stroke-linecap="round"/>
<line x1="448.21" y1="425.4" x2="448.21" y2="434.0" stroke="#000" stroke-width="3" stroke-linecap="round"/>
<line x1="485.98" y1="425.4" x2="485.98" y2="429.7" stroke="#000" stroke-width="3" stroke-linecap="round"/>
<line x1="523.75" y1="425.4" x2="523.75" y2="434.0" stroke="#000" stroke-width="3" stroke-linecap="round"/>
<line x1="561.53" y1="425.4" x2="561.53" y2="429.7" stroke="#000" stroke-width="3" stroke-linecap="round"/>
<line x1="599.30" y1="425.4" x2="599.30" y2="434.0" stroke="#000" stroke-width="3" stroke-linecap="round"/>
<text transform="translate(70.47,456.2) scale(0.92,1.0)" font-size="22.6" font-weight="bold" text-anchor="middle">10</text>
<text transform="translate(146.02,456.2) scale(0.92,1.0)" font-size="22.6" font-weight="bold" text-anchor="middle">20</text>
<text transform="translate(221.57,456.2) scale(0.92,1.0)" font-size="22.6" font-weight="bold" text-anchor="middle">30</text>
<text transform="translate(297.11,456.2) scale(0.92,1.0)" font-size="22.6" font-weight="bold" text-anchor="middle">40</text>
<text transform="translate(372.66,456.2) scale(0.92,1.0)" font-size="22.6" font-weight="bold" text-anchor="middle">50</text>
<text transform="translate(448.21,456.2) scale(0.92,1.0)" font-size="22.6" font-weight="bold" text-anchor="middle">60</text>
<text transform="translate(523.75,456.2) scale(0.92,1.0)" font-size="22.6" font-weight="bold" text-anchor="middle">70</text>
<text transform="translate(599.30,456.2) scale(0.92,1.0)" font-size="22.6" font-weight="bold" text-anchor="middle">80</text>
<text transform="translate(289.3,479.6) scale(0.93,1.07)" font-size="24.5" font-weight="bold">2</text>
<text transform="translate(303.3,479.8) skewX(-6) scale(1.0,1.05)" font-size="25" font-style="italic">θ</text>
<text x="325.0" y="479.3" font-size="24.5">(</text>
<circle cx="336.5" cy="469.8" r="2.1" fill="none" stroke="#000" stroke-width="1.1"/>
<text x="341.2" y="479.3" font-size="24.5">)</text>
<text transform="translate(18.9,286.2) rotate(-90)" font-size="25.55" font-weight="bold">Intensity (a.u.)</text>
<text x="330.9" y="32.6" font-size="25.3" font-weight="bold">ICDD-PDF-01-072-8295</text>
<text x="35.4" y="136.5" font-size="21.6" font-weight="bold">LaSmMnNiO<tspan font-size="11.8" dy="8">6</tspan></text>
<text x="37.4" y="250" font-size="21.3" font-weight="bold">LaPrMnNiO<tspan font-size="11.8" dy="8">6</tspan></text>
<text x="40.6" y="383.5" font-size="21.6" font-weight="bold">La<tspan font-size="11.8" dy="8">2</tspan><tspan dy="-8">MnNiO</tspan><tspan font-size="11.8" dy="8">6</tspan></text>
</svg></body></html>
